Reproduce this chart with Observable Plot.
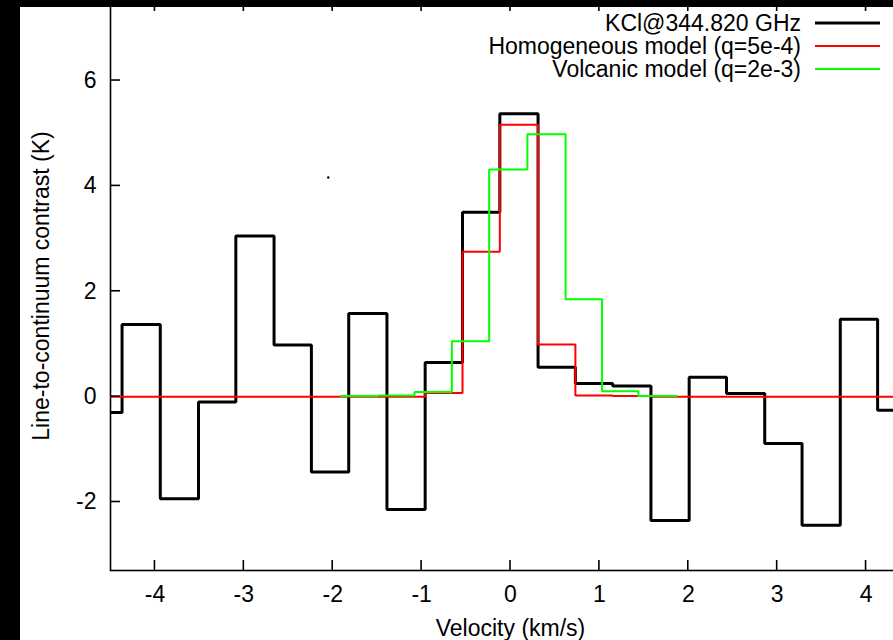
<!DOCTYPE html>
<html>
<head>
<meta charset="utf-8">
<script src="https://cdn.jsdelivr.net/npm/d3@7"></script>
<script src="https://cdn.jsdelivr.net/npm/@observablehq/plot@0.6"></script>
<style>
  html, body { margin: 0; padding: 0; background: #000; overflow: hidden; width: 893px; height: 640px; }
  #wrap { position: absolute; left: 0; top: 0; width: 893px; height: 640px; overflow: hidden; background: #fff; }
  #wrap svg { max-width: none !important; width: 930px !important; height: 640px !important; }
  .band { position: absolute; background: #000; }
</style>
</head>
<body>
<div id="wrap"></div>
<div class="band" style="left:0;top:0;width:20px;height:640px"></div>
<div class="band" style="left:0;top:0;width:893px;height:7px"></div>
<script>
// Observed KCl spectrum: channel edges (km/s) and line-to-continuum contrast (K)
const blackEdges = [-4.79, -4.37, -3.94, -3.51, -3.09, -2.66, -2.24, -1.82, -1.39, -0.96, -0.54,
                    -0.12, 0.31, 0.73, 1.15, 1.58, 2.01, 2.43, 2.86, 3.28, 3.71, 4.13, 4.56];
const blackValues = [-0.30, 1.37, -1.94, -0.10, 3.05, 0.98, -1.43, 1.58, -2.14, 0.65, 3.50,
                     5.37, 0.56, 0.25, 0.20, -2.35, 0.37, 0.06, -0.89, -2.44, 1.47, -0.26];
// Homogeneous model, same channels
const redValues = [0, 0, 0, 0, 0, 0, 0, 0, 0, 0.07, 2.75,
                   5.16, 0.99, 0.02, 0.01, 0, 0, 0, 0, 0, 0, 0];
// Volcanic model channels
const greenEdges = [-1.91, -1.49, -1.08, -0.66, -0.24, 0.19, 0.62, 1.03, 1.44, 1.87];
const greenValues = [0.01, 0.02, 0.09, 1.05, 4.31, 4.98, 1.85, 0.10, 0.01];
// Isolated point near the top left
const strayPoint = [{v: -2.05, k: 4.16}];

const xTicks = [-4, -3, -2, -1, 0, 1, 2, 3, 4];
const yTicks = [-2, 0, 2, 4, 6];
const seriesLabels = ["KCl@344.820 GHz", "Homogeneous model (q=5e-4)", "Volcanic model (q=2e-3)"];
const seriesColors = ["#000000", "#ff0000", "#00ff00"];

const FONT = "'Liberation Sans', Arial, Helvetica, sans-serif";

// Histogram outline: one point per left edge, plus the final right edge
function steps(edges, values) {
  const rows = values.map((k, i) => ({v: edges[i], k}));
  rows.push({v: edges[values.length], k: values[values.length - 1]});
  return rows;
}

const chart = Plot.plot({
  width: 930,
  height: 640,
  marginLeft: 110,
  marginRight: 20,
  marginTop: 1,
  marginBottom: 70,
  style: {fontFamily: FONT, fontSize: "23px", background: "#fff", color: "#000", maxWidth: "none"},
  x: {domain: [-4.5, 4.5]},
  y: {domain: [-3.3, 7.5]},
  marks: [
    Plot.frame({stroke: "#000", strokeWidth: 1.6}),
    Plot.axisX({ticks: xTicks, tickSize: 0, tickPadding: 15, tickFormat: d => String(d),
                label: null, fontSize: 23}),
    Plot.axisY({ticks: yTicks, tickSize: 0, tickPadding: 14, tickFormat: d => String(d),
                label: null, fontSize: 23}),
    Plot.text(["Velocity (km/s)"], {frameAnchor: "bottom", dy: 58, textAnchor: "middle",
                lineAnchor: "middle", fontSize: 23, fill: "#000"}),
    Plot.text(["Line-to-continuum contrast (K)"], {frameAnchor: "left", rotate: -90, dx: -69,
                textAnchor: "middle", lineAnchor: "middle", fontSize: 23, fill: "#000"}),
    Plot.line(steps(blackEdges, blackValues), {x: "v", y: "k", curve: "step-after",
                stroke: seriesColors[0], strokeWidth: 3, strokeLinejoin: "miter", clip: true}),
    Plot.line(steps(blackEdges, redValues), {x: "v", y: "k", curve: "step-after",
                stroke: seriesColors[1], strokeWidth: 2, strokeLinejoin: "miter", clip: true}),
    Plot.line(steps(greenEdges, greenValues), {x: "v", y: "k", curve: "step-after",
                stroke: seriesColors[2], strokeWidth: 2, strokeLinejoin: "miter", clip: true}),
    Plot.dot(strayPoint, {x: "v", y: "k", r: 1.2, fill: "#000", stroke: null})
  ]
});

document.getElementById("wrap").appendChild(chart);

// Inward tick marks on all four borders, placed through the plot's scales
const sx = chart.scale("x"), sy = chart.scale("y");
const [xLeft, xRight] = sx.range;
const [yBottom, yTop] = sy.range;
const svg = d3.select(chart);
const tickLen = 10;
const tg = svg.append("g").attr("stroke", "#000").attr("stroke-width", 1.6);
for (const t of xTicks) {
  const px = sx.apply(t);
  tg.append("line").attr("x1", px).attr("x2", px).attr("y1", yBottom).attr("y2", yBottom - tickLen);
  tg.append("line").attr("x1", px).attr("x2", px).attr("y1", yTop).attr("y2", yTop + tickLen);
}
for (const t of yTicks) {
  const py = sy.apply(t);
  tg.append("line").attr("x1", xLeft).attr("x2", xLeft + tickLen).attr("y1", py).attr("y2", py);
  tg.append("line").attr("x1", xRight).attr("x2", xRight - tickLen).attr("y1", py).attr("y2", py);
}

// Key in the top right corner
const key = svg.append("g").attr("font-family", FONT).attr("font-size", 23);
seriesLabels.forEach((label, i) => {
  const rowY = 23 + i * 23;
  key.append("text").attr("x", 801).attr("y", rowY).attr("dy", "0.35em")
    .attr("text-anchor", "end").attr("fill", "#000").text(label);
  key.append("line").attr("x1", 815).attr("x2", 880).attr("y1", rowY).attr("y2", rowY)
    .attr("stroke", seriesColors[i]).attr("stroke-width", i === 0 ? 3 : 2);
});
</script>
</body>
</html>
